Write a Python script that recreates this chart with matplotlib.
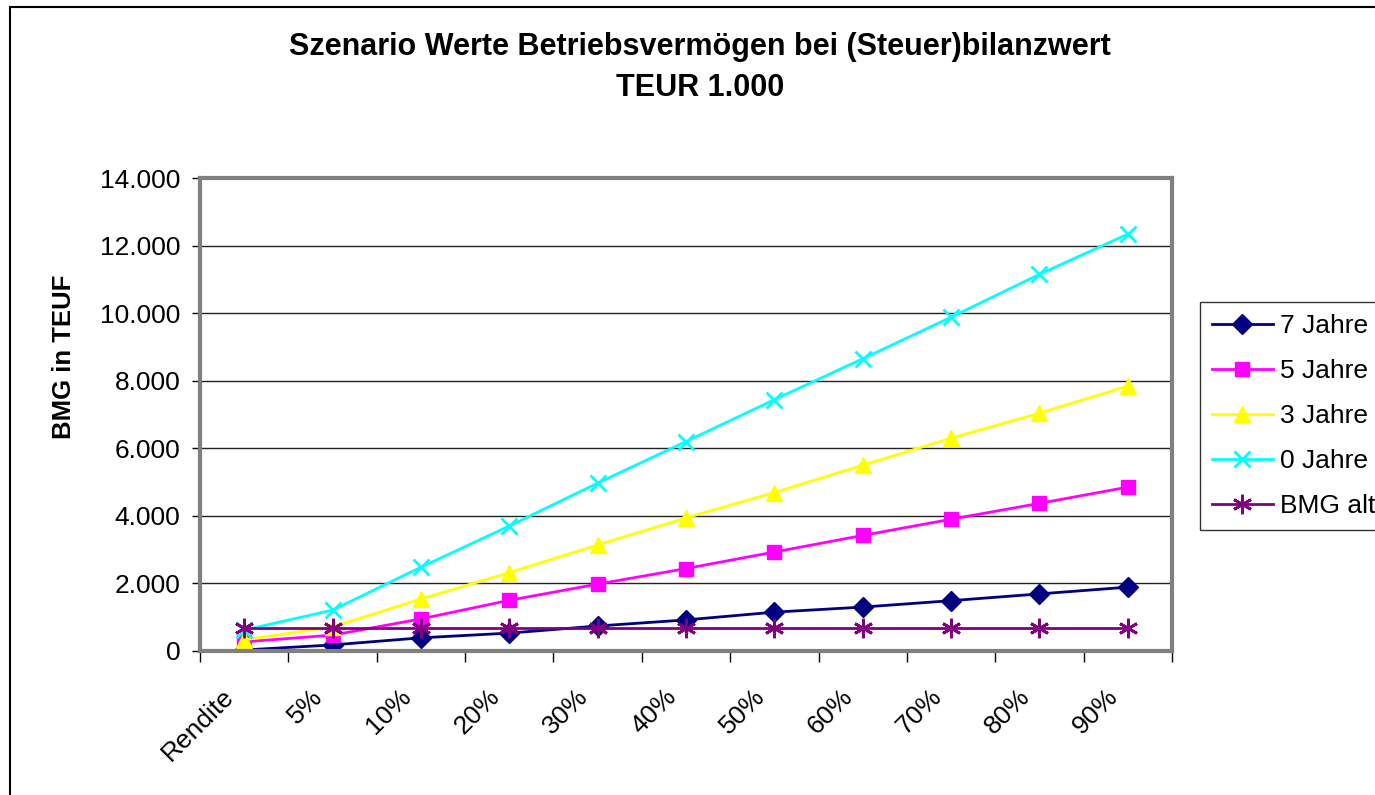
import matplotlib.pyplot as plt
import matplotlib.transforms as mtransforms
from matplotlib.patches import Rectangle

plt.rcParams['font.family'] = ['Liberation Sans', 'DejaVu Sans']

categories = ['Rendite', '5%', '10%', '20%', '30%', '40%', '50%', '60%', '70%', '80%', '90%']
jahre_7 = [30, 180, 390, 530, 740, 920, 1150, 1300, 1490, 1690, 1890]
jahre_5 = [270, 470, 950, 1500, 1980, 2440, 2930, 3420, 3900, 4370, 4850]
jahre_3 = [330, 710, 1540, 2320, 3140, 3940, 4690, 5500, 6300, 7040, 7840]
jahre_0 = [620, 1210, 2480, 3700, 4970, 6200, 7440, 8650, 9880, 11150, 12340]
bmg_alt = [680, 680, 680, 680, 680, 680, 680, 680, 680, 680, 680]

fig = plt.figure(figsize=(13.75, 7.95), dpi=100)
ax = fig.add_axes([200/1375, 1 - 651/795, 972/1375, 473/795])

x = range(len(categories))
ax.plot(x, jahre_7, color='#000080', marker='D', markersize=10, lw=2, label='7 Jahre')
ax.plot(x, jahre_5, color='#FF00FF', marker='s', markersize=10, lw=2, label='5 Jahre')
ax.plot(x, jahre_3, color='#FFFF00', marker='^', markersize=12, lw=2, label='3 Jahre')
ax.plot(x, jahre_0, color='#00FFFF', marker='x', markersize=12, mew=2, lw=2, label='0 Jahre')
ax.plot(x, bmg_alt, color='#800080', marker=(6, 2, 0), markersize=14, mew=2, lw=2, label='BMG alt')

ax.set_xlim(-0.5, len(categories) - 0.5)
ax.set_ylim(0, 14000)
ax.set_yticks(range(0, 14001, 2000))
ax.set_yticklabels(['0' if v == 0 else f'{v // 1000}.000' for v in range(0, 14001, 2000)], fontsize=19)
ax.set_xticks([i + 0.5 for i in range(-1, len(categories))], minor=False)
ax.set_xticklabels([])
ax.set_xticks(list(x), minor=True)
ax.set_xticklabels(categories, minor=True, rotation=45, ha='right', rotation_mode='anchor', fontsize=19)
ax.tick_params(axis='x', which='minor', length=0, pad=12)
ax.tick_params(axis='x', which='major', length=8, width=1, direction='out')
ax.tick_params(axis='y', length=6, width=1, direction='out', pad=8)
# shift the rotated labels along their direction (done after tick_params, which resets transforms)
shift = mtransforms.ScaledTranslation(-0.22, -0.17, fig.dpi_scale_trans)
for lbl in ax.get_xticklabels(minor=True):
    lbl.set_transform(lbl.get_transform() + shift)
ax.grid(axis='y', color='#222222', lw=1)
ax.set_axisbelow(True)
for s in ax.spines.values():
    s.set_color('#808080')
    s.set_linewidth(3)

ax.set_ylabel('BMG in TEUF', fontsize=18.5, fontweight='bold')
ax.yaxis.set_label_coords((76 - 200) / 972, (651 - 357) / 473)
fig.text(700/1375, 1 - 47/795, 'Szenario Werte Betriebsvermögen bei (Steuer)bilanzwert', ha='center', va='center',
         fontsize=22, fontweight='bold')
fig.text(700/1375, 1 - 88/795, 'TEUR 1.000', ha='center', va='center', fontsize=22, fontweight='bold')

leg = fig.legend(loc='upper left', bbox_to_anchor=(1200/1375, 1 - 302/795), fontsize=19, frameon=True,
                 fancybox=False, edgecolor='black', borderaxespad=0, handlelength=2.3, labelspacing=0.8,
                 handletextpad=0.3, borderpad=0.45)
leg.get_frame().set_linewidth(1)

fig.patches.append(Rectangle((10/1375, -0.1), 1.2, 1.1 - 7/795, transform=fig.transFigure,
                             fill=False, edgecolor='black', lw=1.5))

fig.savefig('out.png', dpi=100)
